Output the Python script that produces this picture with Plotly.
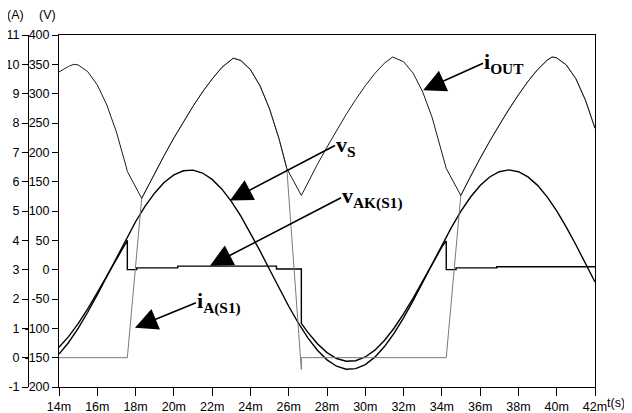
import plotly.graph_objects as go

# ---------------- data ----------------
# time in ms
t_vs = [14, 14.5, 15, 15.5, 16, 16.5, 17, 17.5, 18, 18.5, 19, 19.5, 20, 20.5, 21, 21.5,
        22, 22.5, 23, 23.5, 24, 24.5, 25, 25.5, 26, 26.5, 27, 27.5, 28, 28.5, 29, 29.5,
        30, 30.5, 31, 31.5, 32, 32.5, 33, 33.5, 34, 34.5, 35, 35.5, 36, 36.5, 37, 37.5,
        38, 38.5, 39, 39.5, 40, 40.5, 41, 41.5, 42]
v_s = [-143.7, -124.1, -100.1, -72.6, -42.5, -10.9, 21.1, 52.3, 81.7, 108.2, 130.8, 148.9,
       161.6, 168.6, 169.7, 164.7, 153.9, 137.6, 116.5, 91.3, 62.8, 32.1, 0.2, -31.7, -62.4,
       -90.9, -116.2, -137.4, -153.7, -164.6, -169.6, -168.7, -161.7, -149.1, -131.1, -108.5,
       -82.1, -52.7, -21.5, 10.5, 42.1, 72.2, 99.8, 123.8, 143.4, 158.0, 166.9, 170.0, 167.0,
       158.1, 143.7, 124.1, 100.1, 72.6, 42.5, 10.9, -21.1]

t_vak = [14, 14.5, 15, 15.5, 16, 16.5, 17, 17.5, 17.57, 17.57, 18.06, 18.06, 20.2, 20.2,
         25.36, 25.36, 26.66, 26.66, 27, 27.5, 28, 28.5, 29, 29.5, 30, 30.5, 31, 31.5, 32,
         32.5, 33, 33.5, 34, 34.23, 34.23, 34.74, 34.74, 36.87, 36.87, 42]
v_ak = [-132.2, -114.2, -92.1, -66.8, -39.1, -10.0, 19.4, 48.1, 50, 0, 0, 3, 3, 6,
        6, 1.2, 1.2, -91.5, -106.9, -126.4, -141.4, -151.4, -156.0, -155.2, -148.8, -137.2,
        -120.6, -99.8, -75.5, -48.5, -19.8, 9.7, 38.7, 49, 0, 0, 3, 3, 5, 5]

t_iout = [14, 14.5, 14.77, 15, 15.5, 16, 16.5, 17, 17.5, 17.57, 18.32, 18.5, 19, 19.5, 20,
          20.5, 21, 21.5, 22, 22.5, 23, 23.1, 23.5, 24, 24.5, 25, 25.5, 25.9, 26.66, 27,
          27.5, 28, 28.5, 29, 29.5, 30, 30.5, 31, 31.43, 32, 32.5, 33, 33.5, 34, 34.23,
          34.99, 35.5, 36, 36.5, 37, 37.5, 38, 38.5, 39, 39.5, 39.76, 40, 40.5, 41, 41.5, 42]
i_out = [9.74, 9.93, 10.0, 9.98, 9.75, 9.30, 8.61, 7.69, 6.53, 6.35, 5.43, 5.66, 6.30, 6.90,
         7.49, 8.04, 8.57, 9.06, 9.50, 9.89, 10.18, 10.21, 10.13, 9.82, 9.27, 8.48, 7.45, 6.45,
         5.53, 5.97, 6.59, 7.18, 7.75, 8.29, 8.80, 9.27, 9.69, 10.04, 10.25, 10.09, 9.70, 9.06,
         8.17, 7.05, 6.45, 5.53, 6.19, 6.80, 7.38, 7.94, 8.47, 8.96, 9.42, 9.82, 10.14, 10.25,
         10.22, 9.98, 9.51, 8.78, 7.82]

t_ia = [14, 17.57, 18.32, 18.5, 19, 19.5, 20, 20.5, 21, 21.5, 22, 22.5, 23, 23.1, 23.5, 24,
        24.5, 25, 25.5, 25.9, 26.66, 26.66, 34.23, 34.99, 35.5, 36, 36.5, 37, 37.5, 38, 38.5,
        39, 39.5, 39.76, 40, 40.5, 41, 41.5, 42]
i_a = [0, 0, 5.43, 5.66, 6.30, 6.90, 7.49, 8.04, 8.57, 9.06, 9.50, 9.89, 10.18, 10.21, 10.13,
       9.82, 9.27, 8.48, 7.45, 6.45, -0.4, 0, 0, 5.53, 6.19, 6.80, 7.38, 7.94, 8.47, 8.96,
       9.42, 9.82, 10.14, 10.25, 10.22, 9.98, 9.51, 8.78, 7.82]

x_tick_vals = [14, 16, 18, 20, 22, 24, 26, 28, 30, 32, 34, 36, 38, 40, 42]
x_tick_text = ["14m", "16m", "18m", "20m", "22m", "24m", "26m", "28m", "30m", "32m",
               "34m", "36m", "38m", "40m", "42m"]
v_tick_vals = [-200, -150, -100, -50, 0, 50, 100, 150, 200, 250, 300, 350, 400]
v_tick_text = ["-200", "-150", "-100", "-50", "0", "50", "100", "150", "200", "250",
               "300", "350", "400"]
a_tick_vals = [-1, 0, 1, 2, 3, 4, 5, 6, 7, 8, 9, 10, 11]
a_tick_text = ["-1", "0", "1", "2", "3", "4", "5", "6", "7", "8", "9", "10", "11"]

# ---------------- figure ----------------
# the page body has an 8px margin, so the figure is drawn offset by 8px
OFF = 8
W, H = 632, 413
AX_A, AX_V, TOP, BOT, RIGHT = 28 - OFF, 59 - OFF, 35 - OFF, 387 - OFF, 595 - OFF
ML, MR, MT, MB = AX_A, W - RIGHT, TOP, H - BOT
plot_w = W - ML - MR
plot_h = H - MT - MB
d0 = (AX_V - ML) / plot_w

tick_font = dict(family="Liberation Sans, Arial, DejaVu Sans", size=12.5, color="black")
lab_font = dict(family="Liberation Serif, Times New Roman, DejaVu Serif", size=22, color="black")

fig = go.Figure()
fig.add_trace(go.Scatter(x=t_ia, y=i_a, yaxis="y2", mode="lines",
                         line=dict(color="#7a7a7a", width=1), name="iA(S1)"))
fig.add_trace(go.Scatter(x=t_iout, y=i_out, yaxis="y2", mode="lines",
                         line=dict(color="#1a1a1a", width=1), name="iOUT"))
fig.add_trace(go.Scatter(x=t_vs, y=v_s, yaxis="y", mode="lines",
                         line=dict(color="black", width=1.4), name="vS"))
fig.add_trace(go.Scatter(x=t_vak, y=v_ak, yaxis="y", mode="lines",
                         line=dict(color="black", width=1.4), name="vAK(S1)"))

axis_common = dict(showgrid=False, zeroline=False, showline=True, linecolor="black",
                   linewidth=1, ticks="outside", tickcolor="black", tickfont=tick_font)

fig.update_layout(
    width=W, height=H, autosize=False,
    margin=dict(l=ML, r=MR, t=MT, b=MB, autoexpand=False),
    paper_bgcolor="white", plot_bgcolor="white",
    showlegend=False,
    xaxis=dict(domain=[d0, 1], range=[14, 42], tickvals=x_tick_vals, ticktext=x_tick_text,
               ticklen=8, mirror=True, anchor="y", **axis_common),
    yaxis=dict(range=[-200, 400], tickvals=v_tick_vals, ticktext=v_tick_text,
               ticklen=6, mirror=True, anchor="x", side="left", **axis_common),
    yaxis2=dict(range=[-1, 11], tickvals=a_tick_vals, ticktext=a_tick_text,
                ticklen=6, overlaying="y", anchor="free", position=0, side="left",
                **axis_common),
)

def px2paper_x(px):
    return (px - OFF - ML) / plot_w

def px2paper_y(py):
    return (H - MB - (py - OFF)) / plot_h

# axis unit labels (positions given in screen pixels)
for txt, px, py in [("(A)", 15, 15), ("(V)", 47, 15), ("t(s)", 616, 403)]:
    fig.add_annotation(text=txt, x=px2paper_x(px), y=px2paper_y(py), xref="paper", yref="paper",
                       showarrow=False, font=tick_font, xanchor="center", yanchor="middle")

# curve labels with arrows
labels = [
    ("<b>i</b><sub><b>OUT</b></sub>", 33.02, 9.12, "y2", 60, -27),
    ("<b>v</b><sub><b>S</b></sub>", 22.93, 117.9, "y", 105, -55),
    ("<b>v</b><sub><b>AK(S1)</b></sub>", 21.89, 6.8, "y", 131, -68),
    ("<b>i</b><sub><b>A(S1)</b></sub>", 17.97, 1.02, "y2", 61, -25),
]
for txt, x, y, yref, ax, ay in labels:
    fig.add_annotation(text=txt, x=x, y=y, xref="x", yref=yref, ax=ax, ay=ay,
                       axref="pixel", ayref="pixel", showarrow=True, arrowhead=2,
                       arrowsize=2.8, arrowwidth=1.6, arrowcolor="black",
                       xanchor="left", yanchor="middle", font=lab_font, borderpad=0)

fig.write_html("out.html")
